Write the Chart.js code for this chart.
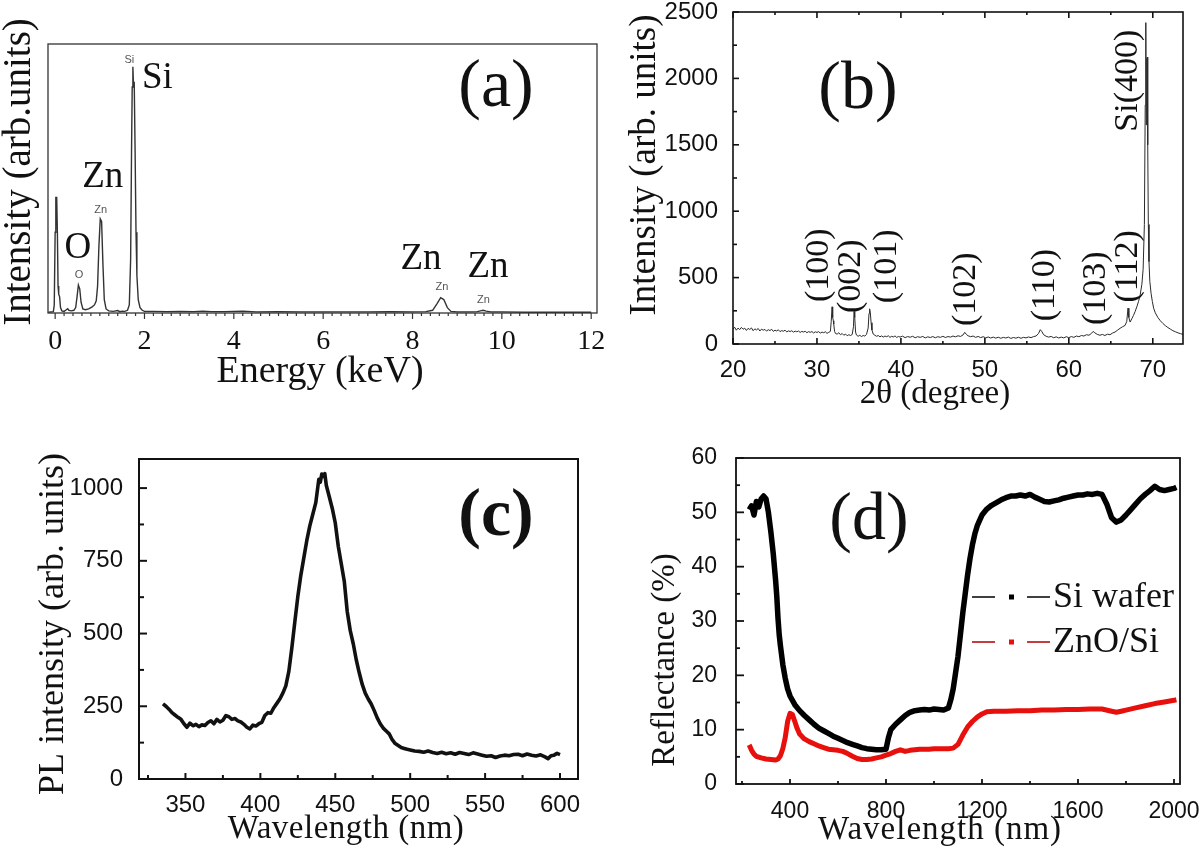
<!DOCTYPE html>
<html>
<head>
<meta charset="utf-8">
<script src="https://cdn.jsdelivr.net/npm/chart.js@4.4.1/dist/chart.umd.min.js"></script>
<style>
  html, body { margin: 0; padding: 0; background: #fff; width: 1200px; height: 854px; overflow: hidden; position: relative; }
  canvas { position: absolute; }
</style>
</head>
<body>
<canvas id="chartA" width="650" height="427" style="left:0px;top:0px"></canvas>
<canvas id="chartB" width="600" height="447" style="left:600px;top:-20px"></canvas>
<canvas id="chartC" width="600" height="447" style="left:0px;top:407px"></canvas>
<canvas id="chartD" width="640" height="447" style="left:600px;top:407px"></canvas>
<script>
// ---------------- (a) EDS spectrum ----------------
const edsEnergy = [-0.15,-0.04,-0.02,0.00,0.015,0.035,0.05,0.065,0.08,0.10,
  0.12,0.15,0.20,0.25,0.28,0.31,0.36,0.42,0.46,0.49,
  0.52,0.55,0.58,0.62,0.68,0.75,0.82,0.88,0.92,0.95,
  0.98,1.01,1.04,1.07,1.10,1.14,1.20,1.30,1.40,1.45,
  1.50,1.56,1.62,1.66,1.69,1.71,1.725,1.74,1.755,1.77,
  1.79,1.81,1.83,1.86,1.90,1.95,2.00,2.20,2.50,2.80,
  3.10,3.30,3.50,3.80,4.20,4.50,5.00,5.50,6.00,6.50,
  7.00,7.50,8.00,8.30,8.45,8.55,8.63,8.70,8.78,8.86,
  9.00,9.30,9.45,9.52,9.58,9.65,9.75,10.0,10.5,11.0,
  11.5,12.0];
const edsCounts = [0.3,0.5,3,30,43,43,30,10,7,6,
  2,0.8,0.6,1.2,1.6,1.0,0.8,1.0,2,6,
  10.4,9,4,1.5,1.2,1.5,2.2,3,4.5,10,
  25,35,34,18,5,1.5,0.8,0.6,0.9,0.5,
  0.7,0.6,1,3,20,60,84,91.5,84,86,
  60,30,14,5,2,1,0.6,0.6,0.5,0.6,
  0.5,0.7,0.5,0.5,0.7,0.4,0.5,0.4,0.4,0.4,
  0.4,0.5,0.4,0.5,1.0,3.5,5.7,5.0,2.0,0.6,
  0.4,0.4,0.5,0.8,1.0,0.7,0.4,0.4,0.3,0.3,
  0.3,0.3];
const edsElementLabels = ['Si', 'Zn', 'O', 'Zn', 'Zn'];

// ---------------- (b) XRD pattern ----------------
const xrdAngle = [20.0,20.2,20.4,20.6,20.8,21.0,21.2,21.4,21.6,21.8,
  22.0,22.2,22.4,22.6,22.8,23.0,23.2,23.4,23.6,23.8,
  24.0,24.2,24.4,24.6,24.8,25.0,25.2,25.4,25.6,25.8,
  26.0,26.2,26.4,26.6,26.8,27.0,27.2,27.4,27.6,27.8,
  28.0,28.2,28.4,28.6,28.8,29.0,29.2,29.4,29.6,29.8,
  30.0,30.2,30.4,30.6,30.8,31.0,31.2,31.4,31.6,31.7,
  31.8,31.85,31.9,31.95,32.0,32.1,32.2,32.4,32.6,32.8,
  33.0,33.2,33.4,33.6,33.8,34.0,34.2,34.35,34.42,34.5,
  34.6,34.7,34.9,35.1,35.3,35.5,35.7,35.9,36.1,36.2,
  36.27,36.35,36.45,36.55,36.7,36.9,37.1,37.3,37.5,37.7,
  37.9,38.1,38.3,38.5,38.7,38.9,39.1,39.3,39.5,39.7,
  39.9,40.2,40.5,40.8,41.1,41.4,41.7,42.0,42.3,42.6,
  42.9,43.2,43.5,43.8,44.1,44.4,44.7,45.0,45.3,45.6,
  45.9,46.2,46.5,46.8,47.1,47.4,47.6,47.8,48.0,48.3,
  48.6,48.9,49.2,49.5,49.8,50.1,50.4,50.7,51.0,51.3,
  51.6,51.9,52.2,52.5,52.8,53.1,53.4,53.7,54.0,54.3,
  54.6,54.9,55.2,55.5,55.8,56.1,56.4,56.6,56.8,57.0,
  57.3,57.6,57.9,58.2,58.5,58.8,59.1,59.4,59.7,60.0,
  60.3,60.6,60.9,61.2,61.5,61.8,62.1,62.4,62.7,62.9,
  63.1,63.4,63.7,64.0,64.3,64.6,64.9,65.2,65.5,65.8,
  66.1,66.4,66.7,66.9,67.05,67.15,67.3,67.5,67.7,67.9,
  68.1,68.3,68.5,68.7,68.85,69.0,69.1,69.17,69.22,69.27,
  69.35,69.4,69.47,69.55,69.65,69.8,69.95,70.1,70.3,70.6,
  70.9,71.2,71.5,71.8,72.1,72.4,72.7,73.0,73.3,73.6];
const xrdCounts = [112,126,104,120,108,125,111,119,102,118,
  109,121,100,114,106,117,98,112,104,110,
  97,108,101,111,95,104,98,107,93,101,
  96,104,91,99,94,100,89,97,92,98,
  87,95,90,96,85,93,88,94,83,92,
  87,93,82,90,85,92,80,88,95,170,
  280,262,200,175,150,95,80,74,85,70,
  79,66,75,62,70,64,72,130,245,200,
  90,68,58,66,56,64,60,72,120,230,
  265,240,160,105,75,66,58,64,54,61,
  52,60,55,62,50,58,53,61,49,57,
  52,59,48,56,51,58,47,55,50,57,
  46,54,49,56,47,55,50,58,49,56,
  52,60,54,62,57,68,88,72,62,55,
  60,50,57,48,55,46,53,45,52,44,
  51,43,50,45,52,42,49,44,51,43,
  50,46,53,48,56,60,80,108,92,70,
  58,52,57,47,54,45,52,46,55,48,
  56,50,60,55,64,60,70,66,80,95,
  84,72,66,72,64,74,70,82,90,104,
  118,130,140,170,270,200,165,190,215,245,
  280,320,370,450,560,900,1800,2420,1650,2150,
  2160,1500,900,620,470,380,320,270,235,200,
  175,155,138,124,112,100,92,84,78,72];
const xrdPeakLabels = ['(100)', '(002)', '(101)', '(102)', '(110)', '(103)', '(112)', 'Si(400)'];

// ---------------- (c) PL spectrum ----------------
const plWavelength = [335,337,339,341,343,345,347,349,351,353,
  355,357,359,361,363,365,367,369,371,373,
  375,377,379,381,383,385,387,389,391,393,
  395,397,399,401,403,405,407,409,411,413,
  415,417,419,421,423,425,427,429,431,433,
  435,437,439,440,441,442,443,444,
  446,448,450,452,454,456,458,460,462,464,
  466,468,470,472,474,476,478,480,482,484,
  486,488,490,492,494,496,498,500,
  503,506,509,512,515,518,521,524,527,530,
  533,536,539,542,545,548,551,554,557,560,
  563,566,569,572,575,578,581,584,587,590,
  592,594,596,598,600];
const plIntensity = [258,250,240,228,220,212,205,190,178,192,
  183,188,180,186,184,194,200,190,205,196,
  202,218,214,205,208,200,196,188,178,172,
  185,182,190,195,218,228,226,245,260,275,
  295,320,370,450,540,627,700,760,820,870,
  910,950,1030,1020,1048,1040,1050,1010,
  970,930,880,800,740,680,575,510,465,410,
  365,325,295,275,258,235,210,190,175,165,
  155,135,122,115,108,105,102,100,
  96,95,92,96,91,88,92,87,90,85,
  91,88,84,90,86,82,78,80,74,79,
  82,80,84,85,80,86,82,79,83,76,
  70,80,82,88,84];

// ---------------- (d) Reflectance ----------------
const reflSeriesNames = ['Si wafer', 'ZnO/Si'];
const siWavelength = [230,240,250,260,270,280,290,300,310,320,
  330,340,345,350,355,360,370,380,390,400,
  420,440,460,480,500,520,540,560,580,600,
  620,640,660,680,700,720,740,760,780,800,
  810,820,840,860,880,900,920,940,960,980,
  1000,1020,1040,1060,1070,1080,1090,1100,1110,1120,
  1130,1140,1150,1160,1170,1180,1190,1200,1220,1240,
  1260,1280,1300,1320,1340,1360,1380,1400,1420,1440,
  1460,1480,1500,1520,1540,1560,1580,1600,1620,1640,
  1660,1680,1700,1720,1740,1760,1780,1800,1820,1840,
  1860,1880,1900,1920,1940,1960,1980,2000,2010];
const siReflectance = [50.5,51.2,49.5,52.0,51.0,52.5,53.0,52.5,50.0,46.5,
  42.5,37.5,34.5,30.5,27.5,25.5,22.0,19.5,17.5,16.2,
  14.6,13.5,12.6,11.8,11.0,10.3,9.8,9.3,8.8,8.4,
  8.0,7.6,7.3,7.0,6.7,6.5,6.4,6.3,6.3,6.4,
  8.5,10.0,11.0,11.8,12.6,13.2,13.5,13.6,13.7,13.6,
  13.8,13.7,13.6,14.0,15.5,17.5,20.5,23.5,27.5,31.5,
  35.0,38.5,41.5,44.0,46.0,47.5,48.5,49.5,50.6,51.3,
  51.8,52.3,52.7,53.0,53.0,53.2,53.0,53.3,52.8,52.4,
  52.0,51.9,52.1,52.3,52.6,52.8,53.0,53.2,53.2,53.4,
  53.3,53.5,53.3,51.5,49.0,48.2,48.6,49.5,50.5,51.5,
  52.5,53.3,54.0,54.8,54.2,54.0,54.2,54.4,54.6];
const znoWavelength = [230,240,250,260,280,300,320,340,350,360,
  370,380,390,400,410,420,430,440,460,480,
  500,520,540,560,580,600,620,640,660,680,
  700,720,740,760,780,800,820,840,860,880,
  900,920,940,960,980,1000,1020,1040,1060,1080,
  1100,1120,1140,1160,1180,1200,1220,1250,1300,1350,
  1400,1450,1500,1550,1600,1650,1700,1740,1760,1780,
  1800,1840,1880,1920,1960,2000,2010];
const znoReflectance = [7.2,6.2,5.5,5.1,4.8,4.6,4.5,4.4,4.6,5.2,
  6.5,8.5,11.5,13.0,12.8,11.5,10.2,9.2,8.3,7.8,
  7.4,7.0,6.7,6.4,6.3,6.2,6.0,5.6,5.1,4.7,
  4.5,4.5,4.6,4.8,5.0,5.3,5.6,6.0,6.3,6.0,
  6.2,6.3,6.4,6.4,6.4,6.5,6.5,6.5,6.5,6.6,
  7.3,9.0,10.5,11.5,12.3,12.9,13.3,13.4,13.4,13.5,
  13.5,13.6,13.6,13.7,13.7,13.8,13.8,13.4,13.2,13.4,
  13.6,14.0,14.4,14.8,15.1,15.4,15.5];

// ---------------- helpers ----------------
const SERIF = 'Liberation Serif';
const SANS = 'Liberation Sans';
Chart.defaults.font.family = SANS;
Chart.defaults.color = '#111';

const pts = (xs, ys) => xs.map((x, i) => ({ x: x, y: ys[i] }));

// ticks at exact multiples of the step inside [min, max]
function stepTicks(s) {
  const st = s.options.ticks.stepSize;
  if (!st) return;
  const out = [];
  for (let n = Math.ceil(s.min / st - 1e-9); n * st <= s.max + 1e-9; n++) {
    out.push({ value: +(n * st).toFixed(6) });
  }
  s.ticks = out;
}
const plainLabel = v => String(+(+v).toFixed(6));

function decor(cfg) {
  return {
    id: 'decor',
    afterDraw(chart) {
      const ctx = chart.ctx, a = chart.chartArea;
      const sx = chart.scales.x, sy = chart.scales.y;
      ctx.save();
      ctx.lineCap = 'butt';
      (cfg.ticks || []).forEach(t => {
        const horiz = (t.side === 'bottom' || t.side === 'top');
        const sc = horiz ? sx : sy;
        const dir = t.out ? -1 : 1;
        ctx.strokeStyle = cfg.frameColor;
        ctx.lineWidth = t.width || cfg.frameWidth;
        const mark = (v, len) => {
          const p = sc.getPixelForValue(v);
          ctx.beginPath();
          if (t.side === 'bottom') { ctx.moveTo(p, a.bottom); ctx.lineTo(p, a.bottom - dir * len); }
          else if (t.side === 'top') { ctx.moveTo(p, a.top); ctx.lineTo(p, a.top + dir * len); }
          else { ctx.moveTo(a.left, p); ctx.lineTo(a.left + dir * len, p); }
          ctx.stroke();
        };
        const each = (step, len, skip) => {
          const n0 = Math.ceil(sc.min / step - 1e-9), n1 = Math.floor(sc.max / step + 1e-9);
          for (let n = n0; n <= n1; n++) {
            const v = n * step;
            if (skip && Math.abs(v / skip - Math.round(v / skip)) < 1e-6) continue;
            mark(v, len);
          }
        };
        each(t.major, t.majorLen);
        if (t.minor) each(t.minor, t.minorLen, t.major);
      });
      ctx.strokeStyle = cfg.frameColor;
      ctx.lineWidth = cfg.frameWidth;
      ctx.strokeRect(a.left, a.top, a.right - a.left, a.bottom - a.top);
      (cfg.texts || []).forEach(t => {
        const x = t.data ? sx.getPixelForValue(t.x) : t.x;
        const y = t.data ? sy.getPixelForValue(t.y) : t.y;
        ctx.save();
        ctx.translate(x, y);
        if (t.rot) ctx.rotate(t.rot * Math.PI / 180);
        ctx.font = (t.weight || 'normal') + ' ' + t.size + 'px "' + (t.family || SERIF) + '"';
        ctx.fillStyle = t.color || '#111';
        ctx.textAlign = 'center';
        ctx.textBaseline = 'middle';
        if (t.spacing) ctx.letterSpacing = t.spacing + 'px';
        ctx.fillText(t.text, 0, 0);
        ctx.restore();
      });
      if (cfg.legend) {
        const L = cfg.legend;
        chart.data.datasets.forEach((ds, i) => {
          const y = L.y + i * L.dy;
          ctx.strokeStyle = ds.legendDash;
          ctx.lineWidth = 1.7;
          ctx.beginPath();
          ctx.moveTo(L.x, y); ctx.lineTo(L.x + 23, y);
          ctx.moveTo(L.x + 55, y); ctx.lineTo(L.x + 78, y);
          ctx.stroke();
          ctx.fillStyle = ds.borderColor;
          ctx.fillRect(L.x + 37, y - 2.5, 5, 5);
          ctx.fillStyle = '#111';
          ctx.font = L.size + 'px "' + SERIF + '"';
          ctx.textAlign = 'left';
          ctx.textBaseline = 'middle';
          ctx.fillText(ds.label, L.x + 81, y + 1);
        });
      }
      ctx.restore();
    }
  };
}

function baseOptions(o) {
  const axis = (extra, fit) => {
    const ax = Object.assign({
      type: 'linear',
      grid: { display: false },
      border: { display: false },
      afterBuildTicks: stepTicks,
      afterFit: fit
    }, extra);
    ax.ticks = Object.assign({ callback: plainLabel, maxRotation: 0, autoSkip: false }, extra.ticks || {});
    return ax;
  };
  return {
    responsive: false,
    animation: false,
    devicePixelRatio: 1,
    layout: { padding: o.padding },
    plugins: { legend: { display: false }, tooltip: { enabled: false } },
    elements: { point: { radius: 0 }, line: { tension: 0 } },
    scales: {
      x: axis(o.x, s => { s.height = o.xHeight; }),
      y: axis(o.y, s => { s.width = o.yWidth; })
    }
  };
}

// ---------------- (a) ----------------
new Chart(document.getElementById('chartA'), {
  type: 'line',
  data: { datasets: [{ label: 'EDS', data: pts(edsEnergy, edsCounts), borderColor: '#333', borderWidth: 1.4, pointRadius: 0 }] },
  options: baseOptions({
    padding: { left: 0, top: 44, right: 53, bottom: 54 },
    xHeight: 60, yWidth: 48,
    x: { min: -0.16, max: 12.13, ticks: { stepSize: 2, padding: 4, color: '#111', font: { family: SERIF, size: 28 } } },
    y: { min: 0, max: 100, ticks: { display: false } }
  }),
  plugins: [decor({
    frameColor: '#333', frameWidth: 1.3,
    ticks: [{ side: 'bottom', major: 2, majorLen: 6, minor: 0.2, minorLen: 3, out: true, width: 1.2 }],
    texts: [
      { text: 'Intensity (arb.units)', x: 20, y: 172, rot: -90, size: 39 },
      { text: 'Energy (keV)', x: 320, y: 372, size: 38 },
      { text: '(a)', x: 496, y: 88, size: 68 },
      { text: edsElementLabels[0], data: true, x: 2.29, y: 87.2, size: 37 },
      { text: edsElementLabels[1], data: true, x: 1.065, y: 50.4, size: 37 },
      { text: edsElementLabels[2], data: true, x: 0.51, y: 24, size: 37 },
      { text: edsElementLabels[3], data: true, x: 8.19, y: 20, size: 37 },
      { text: edsElementLabels[4], data: true, x: 9.69, y: 17.1, size: 37 },
      { text: edsElementLabels[0], data: true, x: 1.66, y: 94, size: 11, family: SANS, color: '#555' },
      { text: edsElementLabels[1], data: true, x: 1.02, y: 38.3, size: 11, family: SANS, color: '#555' },
      { text: edsElementLabels[2], data: true, x: 0.537, y: 14.1, size: 11, family: SANS, color: '#555' },
      { text: edsElementLabels[3], data: true, x: 8.66, y: 9.7, size: 11, family: SANS, color: '#555' },
      { text: edsElementLabels[4], data: true, x: 9.59, y: 4.8, size: 11, family: SANS, color: '#555' }
    ]
  })]
});

// ---------------- (b) ----------------
new Chart(document.getElementById('chartB'), {
  type: 'line',
  data: { datasets: [{ label: 'XRD', data: pts(xrdAngle, xrdCounts), borderColor: '#2a2a2a', borderWidth: 1, pointRadius: 0 }] },
  options: baseOptions({
    padding: { left: 0, top: 32, right: 17, bottom: 43 },
    xHeight: 40, yWidth: 133,
    x: { min: 20, max: 73.6, ticks: { stepSize: 10, padding: 4, font: { family: SANS, size: 24 } } },
    y: { min: 0, max: 2500, ticks: { stepSize: 500, padding: 7, font: { family: SANS, size: 24 } } }
  }),
  plugins: [decor({
    frameColor: '#111', frameWidth: 1.6,
    ticks: [
      { side: 'bottom', major: 10, majorLen: 6, minor: 5, minorLen: 3 },
      { side: 'top', major: 10, majorLen: 6, minor: 5, minorLen: 3 },
      { side: 'left', major: 500, majorLen: 6, minor: 250, minorLen: 4 }
    ],
    texts: [
      { text: 'Intensity (arb. units)', x: 45, y: 185, rot: -90, size: 37 },
      { text: '2\u03b8 (degree)', x: 335, y: 414, size: 33 },
      { text: '(b)', x: 258, y: 110, size: 68 },
      { text: xrdPeakLabels[0], data: true, x: 30.3, y: 593, rot: -90, size: 34 },
      { text: xrdPeakLabels[1], data: true, x: 34.1, y: 510, rot: -90, size: 34 },
      { text: xrdPeakLabels[2], data: true, x: 38.4, y: 585, rot: -90, size: 34 },
      { text: xrdPeakLabels[3], data: true, x: 47.8, y: 413, rot: -90, size: 34 },
      { text: xrdPeakLabels[4], data: true, x: 57.2, y: 443, rot: -90, size: 34 },
      { text: xrdPeakLabels[5], data: true, x: 63.2, y: 420, rot: -90, size: 34 },
      { text: xrdPeakLabels[6], data: true, x: 67.1, y: 585, rot: -90, size: 34 },
      { text: xrdPeakLabels[7], data: true, x: 67.1, y: 1983, rot: -90, size: 34 }
    ]
  })]
});

// ---------------- (c) ----------------
new Chart(document.getElementById('chartC'), {
  type: 'line',
  data: { datasets: [{ label: 'PL', data: pts(plWavelength, plIntensity), borderColor: '#111', borderWidth: 3.6, pointRadius: 0, borderJoinStyle: 'round' }] },
  options: baseOptions({
    padding: { left: 0, top: 52, right: 22, bottom: 35 },
    xHeight: 40, yWidth: 139,
    x: { min: 319, max: 612, ticks: { stepSize: 50, padding: 4, font: { family: SANS, size: 24 } } },
    y: { min: 0, max: 1100, ticks: { stepSize: 250, padding: 8, font: { family: SANS, size: 24 } } }
  }),
  plugins: [decor({
    frameColor: '#111', frameWidth: 2,
    ticks: [
      { side: 'bottom', major: 50, majorLen: 6, minor: 25, minorLen: 4 },
      { side: 'left', major: 250, majorLen: 8, minor: 125, minorLen: 5 }
    ],
    texts: [
      { text: 'PL intensity (arb. units)', x: 54, y: 217, rot: -90, size: 36 },
      { text: 'Wavelength (nm)', x: 346, y: 422, size: 33, spacing: 0.5 },
      { text: '(c)', x: 496, y: 110, size: 68, weight: 'bold' }
    ]
  })]
});

// ---------------- (d) ----------------
new Chart(document.getElementById('chartD'), {
  type: 'line',
  data: { datasets: [
    { label: reflSeriesNames[0], data: pts(siWavelength, siReflectance), borderColor: '#000', legendDash: '#000', borderWidth: 5.5, pointRadius: 0, order: 1, borderJoinStyle: 'round' },
    { label: reflSeriesNames[1], data: pts(znoWavelength, znoReflectance), borderColor: '#e8100c', legendDash: '#b00000', borderWidth: 5, pointRadius: 0, order: 0, borderJoinStyle: 'round' }
  ] },
  options: baseOptions({
    padding: { left: 0, top: 51, right: 60, bottom: 30 },
    xHeight: 40, yWidth: 136,
    x: { min: 175, max: 2025, ticks: { stepSize: 400, padding: 6, font: { family: SANS, size: 23 } } },
    y: { min: 0, max: 60, ticks: { stepSize: 10, padding: 11, font: { family: SANS, size: 23 } } }
  }),
  plugins: [decor({
    frameColor: '#111', frameWidth: 1.8,
    ticks: [
      { side: 'bottom', major: 400, majorLen: 5, minor: 200, minorLen: 3 },
      { side: 'left', major: 10, majorLen: 8, minor: 5, minorLen: 4 }
    ],
    texts: [
      { text: 'Reflectance (%)', x: 65, y: 253, rot: -90, size: 33 },
      { text: 'Wavelength (nm)', x: 340, y: 423, size: 33, spacing: 1 },
      { text: '(d)', x: 269, y: 114, size: 68 }
    ],
    legend: { x: 372, y: 190, dy: 45, size: 36 }
  })]
});
</script>
</body>
</html>
